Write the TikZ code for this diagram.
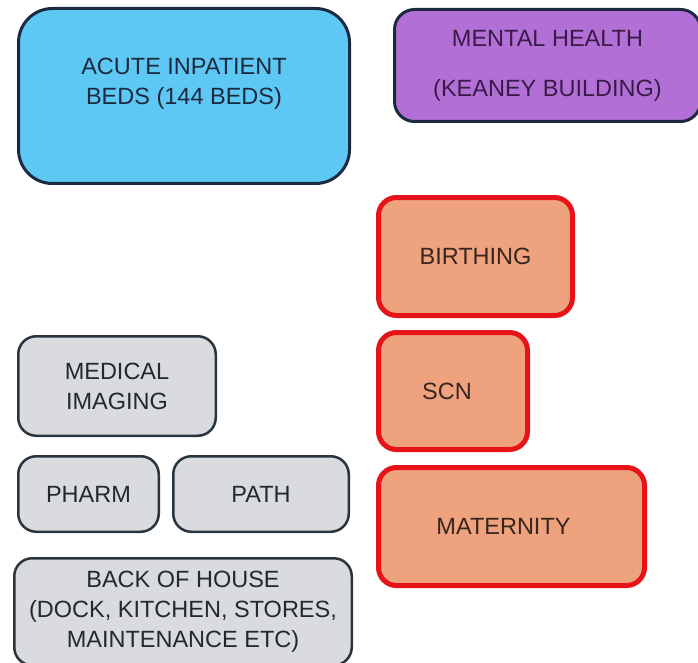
\documentclass[tikz,border=0pt]{standalone}
\usepackage{fontspec}
\setmainfont{Liberation Sans}
\usetikzlibrary{positioning}
\definecolor{wardBlue}{RGB}{94, 200, 245}
\definecolor{wardNavy}{RGB}{27, 42, 62}
\definecolor{wardPurple}{RGB}{178, 112, 214}
\definecolor{wardPlum}{RGB}{58, 26, 72}
\definecolor{wardSalmon}{RGB}{238, 163, 126}
\definecolor{wardRed}{RGB}{230, 20, 24}
\definecolor{wardBrown}{RGB}{56, 38, 30}
\definecolor{wardGrey}{RGB}{218, 219, 222}
\definecolor{wardSlate}{RGB}{40, 52, 62}

\begin{document}
\begin{tikzpicture}[
  x=1pt, y=1pt,
  zone/.style={
    draw,
    rounded corners=18pt,
    inner sep=0pt,
    anchor=north west,
    align=center,
    font=\fontsize{23.5}{30}\selectfont
  },
  acutezone/.style={zone,fill=wardBlue,draw=wardNavy,text=wardNavy,line width=3pt,rounded corners=34pt},
  mentalzone/.style={zone,fill=wardPurple,draw=wardNavy,text=wardPlum,line width=3pt,rounded corners=20pt},
  maternityzone/.style={zone,fill=wardSalmon,draw=wardRed,text=wardBrown,line width=5pt},
  supportzone/.style={zone,fill=wardGrey,draw=wardSlate,text=wardSlate!80!black,line width=2.5pt}
]
  \useasboundingbox (0,0) rectangle (698,-663);
  \node[acutezone,minimum width=331pt,minimum height=175pt,text depth=30pt] (acute) at (17,-7) {ACUTE INPATIENT\\BEDS (144 BEDS)};
  \node[mentalzone,minimum width=306pt,minimum height=112pt] (mental) at (393,-8) {MENTAL HEALTH\\[20pt](KEANEY BUILDING)};
  \node[maternityzone,minimum width=194pt,minimum height=118pt] (birthing) at (376,-195) {BIRTHING};
  \node[maternityzone,minimum width=149pt,minimum height=117pt,below=12pt of birthing.south west,anchor=north west] (scn) {\hspace*{-12pt}SCN};
  \node[maternityzone,minimum width=266pt,minimum height=118pt,below=13pt of scn.south west,anchor=north west] (maternity) {\hspace*{-16pt}MATERNITY};
  \node[supportzone,minimum width=197.5pt,minimum height=99.5pt] (imaging) at (17,-335) {MEDICAL\\IMAGING};
  \node[supportzone,minimum width=140.5pt,minimum height=75.5pt,below=18pt of imaging.south west,anchor=north west] (pharm) {PHARM};
  \node[supportzone,minimum width=175.5pt,minimum height=75.5pt,right=12pt of pharm.north east,anchor=north west] (path) {PATH};
  \node[supportzone,minimum width=337.5pt,minimum height=107pt] (backofhouse) at (13,-557) {BACK OF HOUSE\\(DOCK, KITCHEN, STORES,\\MAINTENANCE ETC)};
\end{tikzpicture}
\end{document}
